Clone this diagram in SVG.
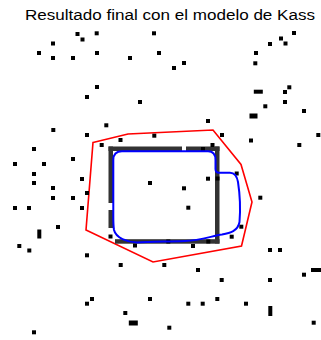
<svg xmlns="http://www.w3.org/2000/svg" width="321" height="340" viewBox="0 0 321 340">
<style>
.t{font-family:"Liberation Sans",Arial,sans-serif;font-size:14px;fill:#000}
.d rect{fill:#000}
.r{fill:#333}
</style>
<rect width="321" height="340" fill="#fff"/>
<text class="t" x="25" y="19.5" textLength="290" lengthAdjust="spacingAndGlyphs">Resultado final con el modelo de Kass</text>
<g id="snake-final">
<polygon points="93,142.5 128,134 213,130 241,164.5 252,202 241.5,246 153,262 86,230" fill="none" stroke="#ff0000" stroke-width="1.6" stroke-linejoin="miter"/>
</g>
<g id="initial-contour">
<rect class="r" x="108.5" y="146.5" width="73.5" height="4.5"/>
<rect class="r" x="186" y="146.5" width="33.5" height="4.5"/>
<rect class="r" x="108.5" y="146.5" width="4.5" height="56.5"/>
<rect class="r" x="108.5" y="210" width="4.5" height="18"/>
<rect class="r" x="215" y="146.5" width="4.5" height="97"/>
<rect class="r" x="115" y="239.2" width="104.5" height="4.5"/>
</g>
<g id="points" class="d">
<rect x="75.5" y="32" width="4" height="4"/>
<rect x="80.5" y="37.5" width="4" height="4"/>
<rect x="94.7" y="31.3" width="4" height="4"/>
<rect x="152" y="31.3" width="4" height="4"/>
<rect x="51" y="41.5" width="4" height="4"/>
<rect x="37" y="51" width="4" height="4"/>
<rect x="51" y="56" width="4" height="4"/>
<rect x="71" y="56" width="4" height="4"/>
<rect x="95" y="51" width="4" height="4"/>
<rect x="128" y="56" width="4" height="4"/>
<rect x="157" y="51" width="4" height="4"/>
<rect x="268" y="42" width="4" height="4"/>
<rect x="279" y="36.5" width="4" height="4"/>
<rect x="283.5" y="41.5" width="4" height="4"/>
<rect x="292" y="31" width="4" height="4"/>
<rect x="254" y="51" width="4" height="4"/>
<rect x="182" y="61" width="4" height="4"/>
<rect x="172" y="66" width="4" height="4"/>
<rect x="253.3" y="61.3" width="4" height="4"/>
<rect x="95" y="85" width="4" height="4"/>
<rect x="85" y="95" width="4" height="4"/>
<rect x="138" y="100" width="4" height="4"/>
<rect x="253.8" y="89.7" width="9" height="4"/>
<rect x="283" y="90" width="4" height="4"/>
<rect x="287.3" y="85.3" width="4" height="4"/>
<rect x="283" y="100" width="4" height="4"/>
<rect x="263.3" y="104.3" width="4" height="4"/>
<rect x="302" y="109" width="4" height="4"/>
<rect x="249.5" y="113.5" width="8" height="5"/>
<rect x="206" y="119" width="4" height="4"/>
<rect x="220" y="133" width="4" height="4"/>
<rect x="249" y="138.5" width="4" height="4"/>
<rect x="316.3" y="133" width="4" height="4"/>
<rect x="210.5" y="143" width="4" height="4"/>
<rect x="297.3" y="143" width="4" height="4"/>
<rect x="104.3" y="123.3" width="4" height="4"/>
<rect x="51.3" y="128" width="4" height="4"/>
<rect x="85" y="133" width="4" height="4"/>
<rect x="118.5" y="138" width="4" height="4"/>
<rect x="152.3" y="133.7" width="4" height="4"/>
<rect x="99.7" y="143" width="4" height="4"/>
<rect x="32" y="147" width="4" height="4"/>
<rect x="13" y="162" width="4" height="4"/>
<rect x="42" y="162" width="4" height="4"/>
<rect x="71" y="157" width="4" height="4"/>
<rect x="32" y="172" width="4" height="4"/>
<rect x="32" y="181" width="4" height="4"/>
<rect x="51" y="186" width="4" height="4"/>
<rect x="80" y="177" width="4" height="4"/>
<rect x="51" y="196" width="4" height="4"/>
<rect x="71" y="196" width="4" height="4"/>
<rect x="85" y="191" width="4" height="4"/>
<rect x="13" y="206" width="4" height="4"/>
<rect x="27" y="206" width="4" height="4"/>
<rect x="80" y="206" width="4" height="4"/>
<rect x="148" y="181" width="4" height="4"/>
<rect x="56" y="225" width="4" height="4"/>
<rect x="37.3" y="229.5" width="4" height="9"/>
<rect x="108.5" y="234.5" width="4" height="4"/>
<rect x="17.3" y="244" width="4" height="4"/>
<rect x="27.3" y="248.5" width="4" height="4"/>
<rect x="133" y="243.5" width="4" height="4"/>
<rect x="234.7" y="171.5" width="4" height="4"/>
<rect x="206" y="176.7" width="4" height="4"/>
<rect x="182" y="186.3" width="4" height="4"/>
<rect x="258.3" y="195.7" width="4" height="4"/>
<rect x="186.3" y="205.7" width="4" height="4"/>
<rect x="239.3" y="224.7" width="4" height="4"/>
<rect x="229.7" y="234.7" width="4" height="4"/>
<rect x="191" y="244" width="4" height="4"/>
<rect x="268" y="248" width="4" height="4"/>
<rect x="278" y="248" width="4" height="4"/>
<rect x="85" y="253.3" width="4" height="4"/>
<rect x="118.7" y="263" width="4" height="4"/>
<rect x="90" y="297" width="4" height="4"/>
<rect x="85" y="301.7" width="4" height="4"/>
<rect x="148" y="297" width="4" height="4"/>
<rect x="123.3" y="311" width="4" height="4"/>
<rect x="128.8" y="320.5" width="9" height="5"/>
<rect x="32" y="330.3" width="4" height="4"/>
<rect x="162.3" y="263" width="4" height="4"/>
<rect x="196" y="268" width="4" height="4"/>
<rect x="219.7" y="278" width="4" height="4"/>
<rect x="268" y="278" width="4" height="4"/>
<rect x="302" y="272.7" width="4" height="4"/>
<rect x="311" y="268" width="10" height="4"/>
<rect x="186.3" y="301.7" width="4" height="4"/>
<rect x="200.7" y="301.7" width="4" height="4"/>
<rect x="215.3" y="297" width="4" height="4"/>
<rect x="244" y="301.7" width="4" height="4"/>
<rect x="268.3" y="306" width="4" height="10"/>
<rect x="311.7" y="320.7" width="4" height="4"/>
<rect x="167.3" y="325.7" width="4" height="4"/>
<rect x="166.3" y="239.5" width="4" height="4"/>
<rect x="206.3" y="239.5" width="4" height="4"/>
<rect x="215.5" y="176.5" width="4" height="4"/>
<rect x="201" y="147" width="4" height="4"/>
</g>
<g id="snake-blue">
<path d="M122 151.3 H208 C213 151.3 215.5 154 215.5 160 V169 C215.5 172 217 172.7 219 172.7 H230 C235 172.7 237 176 238 182 C240 195 240.5 210 239.5 222 C238 231 230 233 222 234.5 C212 236 200 240.5 185 241 C165 241.7 150 241.5 137 242.5 C127 242 116 238 114 230 C113.3 226 113.3 220 113.3 215 V160 C113.3 154 116 151.3 122 151.3 Z" fill="none" stroke="#0000ff" stroke-width="2"/>
</g>
</svg>
